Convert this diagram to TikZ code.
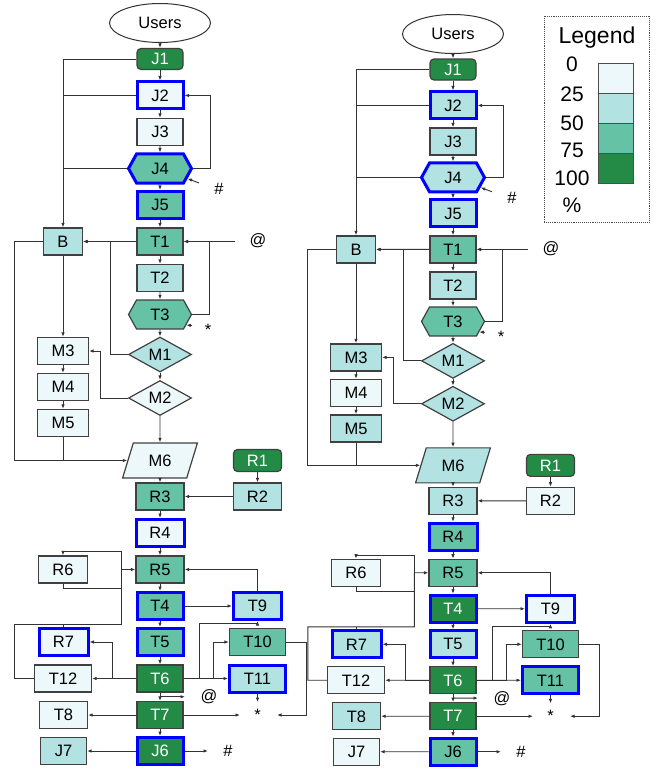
\documentclass[tikz,border=0pt]{standalone}
\usepackage{fontspec}
\setmainfont{Liberation Sans}
\usetikzlibrary{arrows.meta,calc,shapes.geometric,shapes.symbols}
\definecolor{lvzero}{HTML}{EDF8FB}
\definecolor{lvone}{HTML}{B2E2E2}
\definecolor{lvtwo}{HTML}{66C2A4}
\definecolor{lvthree}{HTML}{238B45}
\definecolor{hotblue}{HTML}{0000FF}
\newcommand{\boxfont}{\fontsize{16.5pt}{19pt}\selectfont}
\newcommand{\legendfont}{\fontsize{21pt}{24pt}\selectfont}
\tikzset{
  box/.style={draw=black!75, line width=1.2pt, minimum width=46pt, minimum height=27pt, inner sep=1pt, font=\boxfont},
  hexbox/.style={box, signal, signal to=east and west, signal pointer angle=122, minimum width=63pt, minimum height=29pt},
  decision/.style={box, diamond, aspect=1.8, inner sep=0pt, minimum width=63pt, minimum height=35pt},
  slantbox/.style={box, trapezium, trapezium left angle=70, trapezium right angle=110, trapezium stretches=true, minimum width=75pt, minimum height=35pt},
  lvA/.style={fill=lvzero}, lvB/.style={fill=lvone}, lvC/.style={fill=lvtwo}, lvD/.style={fill=lvthree, text=white},
  hot/.style={draw=hotblue, line width=3pt},
  link/.style={draw=black!80, line width=0.9pt, -{Latex[length=4.5pt,width=3.5pt]}},
  joinline/.style={draw=black!80, line width=0.9pt},
  jumpmark/.style={font=\boxfont, inner sep=0pt}
}
\newcommand{\drawflow}{%
  % main column
  \node[draw=black!80, line width=1pt, ellipse, minimum width=101pt, minimum height=39pt, inner sep=0pt, font=\boxfont] (Users) at (160,23) {Users};
  \node[box, rounded corners=4pt, minimum height=21pt, sJ1] (J1) at (160,59) {J1};
  \node[box, sJ2] (J2) at (160,95.5) {J2};
  \node[box, sJ3] (J3) at (160,132) {J3};
  \node[hexbox, sJ4] (J4) at (160,168.5) {J4};
  \node[box, sJ5] (J5) at (160,205) {J5};
  \node[box, sT1] (T1) at (160,241.5) {T1};
  \node[box, sT2] (T2) at (160,278) {T2};
  \node[hexbox, sT3] (T3) at (160,314.5) {T3};
  \node[decision, sM1] (M1) at (160,354.5) {M1};
  \node[decision, sM2] (M2) at (160,398) {M2};
  \node[slantbox, sM6] (M6) at (160,460.5) {M6};
  \node[box, minimum width=48pt, sR3] (R3) at (160,496.5) {R3};
  \node[box, minimum width=48pt, sR4] (R4) at (160,533) {R4};
  \node[box, minimum width=48pt, sR5] (R5) at (160,569.5) {R5};
  \node[box, sT4] (T4) at (160,606) {T4};
  \node[box, sT5] (T5) at (160,642) {T5};
  \node[box, sT6] (T6) at (160,678.5) {T6};
  \node[box, sT7] (T7) at (160,715) {T7};
  \node[box, sJ6] (J6) at (160,751) {J6};
  % left column
  \node[box, minimum width=39pt, sB] (B) at (63,241.5) {B};
  \node[box, minimum width=51pt, sM3] (M3) at (63,351) {M3};
  \node[box, minimum width=51pt, sM4] (M4) at (63,387) {M4};
  \node[box, minimum width=51pt, sM5] (M5) at (63,423) {M5};
  \node[box, minimum width=49pt, sR6] (R6) at (63,569.5) {R6};
  \node[box, minimum width=49pt, sR7] (R7) at (63.5,642) {R7};
  \node[box, minimum width=57pt, sT12] (T12) at (63,678.5) {T12};
  \node[box, minimum width=48pt, sT8] (T8) at (63.5,715) {T8};
  \node[box, sJ7] (J7) at (63.5,751) {J7};
  % right column
  \node[box, rounded corners=4pt, minimum width=48pt, minimum height=22pt, sR1] (R1) at (257.5,460.5) {R1};
  \node[box, minimum width=48pt, sR2] (R2) at (257.5,496.5) {R2};
  \node[box, minimum width=48pt, sT9] (T9) at (257.5,606) {T9};
  \node[box, minimum width=56pt, sT10] (T10) at (257.5,642) {T10};
  \node[box, minimum width=56pt, sT11] (T11) at (257.5,678.5) {T11};
  % jump marks
  \node[jumpmark] (hashA) at (219,189) {\#};
  \node[jumpmark] (atA) at (258,241) {@};
  \node[jumpmark] (starA) at (208,330) {*};
  \node[jumpmark] (atB) at (209,697) {@};
  \node[jumpmark] (starB) at (257.5,715) {*};
  \node[jumpmark] (hashB) at (228,751) {\#};
  \coordinate (hashAfrom) at (199,183);
  \coordinate (atAfrom) at (235,241.5);
  \coordinate (starAfrom) at (192,325.5);
  \coordinate (atBfrom) at ($(T6.south)!0.5!(T7.north)$);
  \coordinate (atBto) at ($(atBfrom)+(25,0)$);
  \coordinate (starBleft) at (240,715);
  \coordinate (starBright) at (277,715);
  \coordinate (starBtop) at (257.5,702);
  \coordinate (hashBto) at (208,751);
  \coordinate (busR) at ($(R5.west)+(-14,0)$);
  \coordinate (busLow) at ($(busR)+(0,55)$);
  % straight links
  \foreach \a/\b in {Users/J1, J1/J2, J2/J3, J3/J4, J4/J5, J5/T1, T1/T2, T2/T3, T3/M1, M1/M2, M2/M6,
      M6/R3, R3/R4, R4/R5, R5/T4, T4/T5, T5/T6, T6/T7, T7/J6, B/M3, M3/M4, M4/M5, R1/R2, R2/R3,
      T1/B, T4/T9, T6/T11, T6/T12, T7/T8, J6/J7}
    \draw[link] (\a) -- (\b);
  % elbows
  \draw[link] (J1.west) -| (B.north);
  \draw[joinline] (J2.west) -- (J2.west -| B.north);
  \draw[joinline] (J4.west) -- (J4.west -| B.north);
  \draw[link] (J4.east) -- ++(17,0) |- (J2.east);
  \draw[link] (hashAfrom) -- (J4.-20);
  \draw[link] (atAfrom) -- (T1.east);
  \draw[link] (T3.east) -- ++(17,0) |- (T1.east);
  \draw[link] (starAfrom) -- (T3.-22);
  \draw[link] (M1.west) -- ++(-17,0) |- (B.east);
  \draw[link] (M2.west) -- ++(-27,0) |- (M3.east);
  \draw[link] (B.west) -- ++(-28,0) |- (M6.west);
  \draw[joinline] (M5.south) -- (M5.south |- M6.west);
  % loop round R5
  \draw[link] (T12.west) -- ++(-19,0) |- (busLow) -- (busR) -- (R5.west);
  \draw[joinline] (R6.south) -- ++(0,5) -| (busR);
  \draw[joinline] (R7.north) -- (R7.north |- busLow);
  \draw[link] (busR) -- ++(0,-18) -| (R6.north);
  \draw[link] (T9.north) |- (R5.east);
  \draw[link] (T6.east) -| ($(T9.south)+(-58,2.5)$) -| (T9.south);
  \draw[link] (T6.east) -| ($(T10.west)+(-15,0)$) -- (T10.west);
  \draw[link] (T6.west) -| ($(R7.east)+(23,0)$) -- (R7.east);
  \draw[link] (atBfrom) -- (atBto);
  \draw[link] (T7.east) -- (starBleft);
  \draw[link] (T11.south) -- (starBtop);
  \draw[link] (T10.east) -- ++(20,0) |- (starBright);
  \draw[link] (J6.east) -- (hashBto);
}
\begin{document}
\begin{tikzpicture}[x=1pt, y=-1pt]
  \path[fill=white, use as bounding box] (0,0) rectangle (657,770);
  % first run
  \begin{scope}[name prefix=L-,
      sJ1/.style=lvD, sJ2/.style={lvA,hot}, sJ3/.style=lvA, sJ4/.style={lvC,hot}, sJ5/.style={lvC,hot},
      sT1/.style=lvC, sT2/.style=lvB, sT3/.style=lvC, sM1/.style=lvB, sM2/.style=lvA, sB/.style=lvB,
      sM3/.style=lvA, sM4/.style=lvA, sM5/.style=lvA, sM6/.style=lvA, sR1/.style=lvD, sR2/.style=lvB,
      sR3/.style=lvC, sR4/.style={lvA,hot}, sR5/.style=lvC, sR6/.style=lvA, sT4/.style={lvC,hot},
      sT9/.style={lvB,hot}, sR7/.style={lvA,hot}, sT5/.style={lvC,hot}, sT10/.style=lvC, sT12/.style=lvA,
      sT6/.style=lvD, sT11/.style={lvB,hot}, sT8/.style=lvA, sT7/.style=lvD, sJ7/.style=lvB, sJ6/.style={lvD,hot}]
    \drawflow
  \end{scope}
  % second run
  \begin{scope}[name prefix=R-, shift={(293,11.33)}, yscale=0.986,
      sJ1/.style=lvD, sJ2/.style={lvB,hot}, sJ3/.style=lvB, sJ4/.style={lvB,hot}, sJ5/.style={lvB,hot},
      sT1/.style=lvC, sT2/.style=lvB, sT3/.style=lvC, sM1/.style=lvB, sM2/.style=lvB, sB/.style=lvB,
      sM3/.style=lvB, sM4/.style=lvA, sM5/.style=lvB, sM6/.style=lvB, sR1/.style=lvD, sR2/.style=lvA,
      sR3/.style=lvB, sR4/.style={lvC,hot}, sR5/.style=lvC, sR6/.style=lvA, sT4/.style={lvD,hot},
      sT9/.style={lvA,hot}, sR7/.style={lvB,hot}, sT5/.style={lvB,hot}, sT10/.style=lvC, sT12/.style=lvA,
      sT6/.style=lvD, sT11/.style={lvC,hot}, sT8/.style=lvB, sT7/.style=lvD, sJ7/.style=lvA, sJ6/.style={lvC,hot}]
    \drawflow
  \end{scope}
  % legend
  \node[draw=black!70, densely dotted, line width=0.9pt, minimum width=105pt, minimum height=206pt] (legendbox) at (596.5,119) {};
  \node[font=\fontsize{23pt}{26pt}\selectfont, inner sep=0pt] (legendtitle) at (597,37.5) {Legend};
  \foreach \v/\y [count=\i] in {0/64, 25/94, 50/123.5, 75/150.5, 100/178, \%/205.5}
    \node[font=\legendfont, inner sep=0pt] (level\i) at (572,\y) {\v};
  \foreach \c [count=\i] in {lvzero, lvone, lvtwo, lvthree}
    \node[draw=black!70, line width=1pt, fill=\c, minimum width=35pt, minimum height=29.5pt, inner sep=0pt] (swatch\i) at (616,48.5+30*\i) {};
\end{tikzpicture}
\end{document}
